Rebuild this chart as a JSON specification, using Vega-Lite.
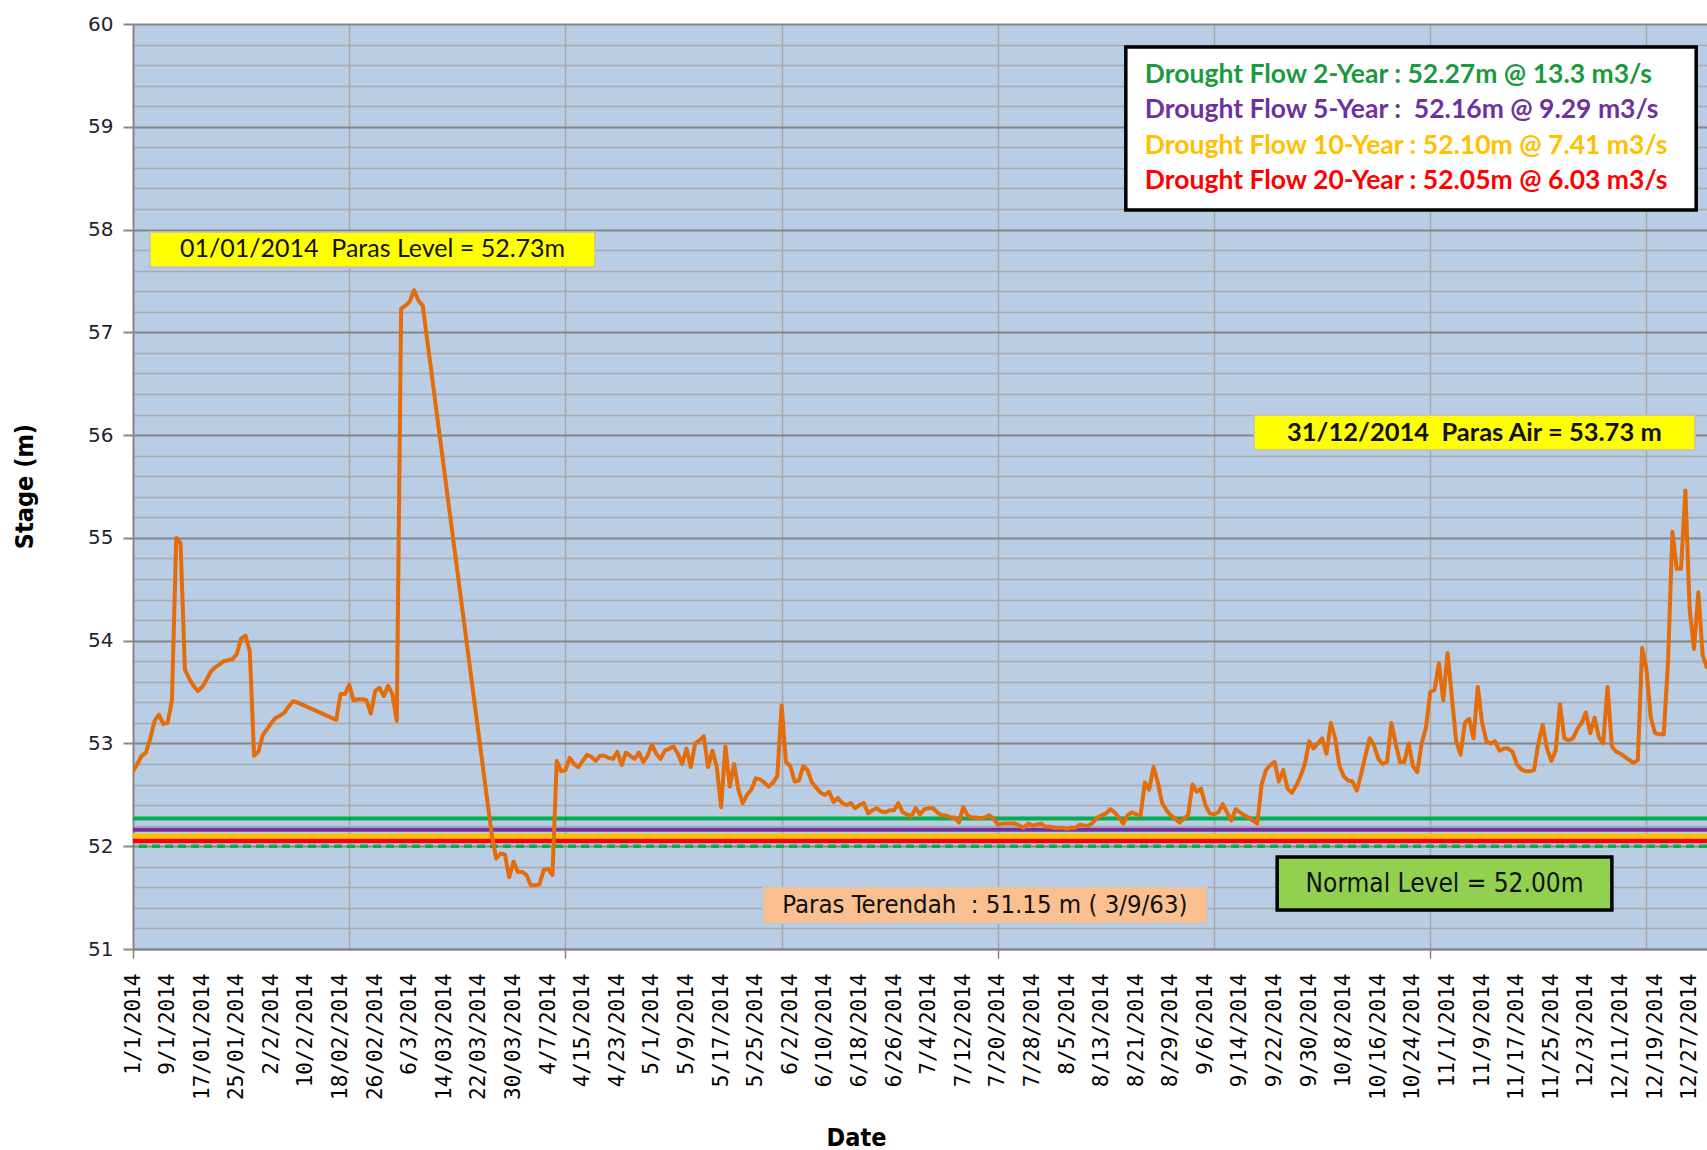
{
  "$schema": "https://vega.github.io/schema/vega-lite/v6.json",
  "width": 1574,
  "height": 925,
  "autosize": {"type": "none"},
  "padding": {"left": 133, "top": 24, "right": 0, "bottom": 201},
  "background": "#ffffff",
  "config": {"view": {"fill": "#b9cde5", "stroke": null}, "axis": {"labelOverlap": false}},
  "resolve": {"axis": {"x": "independent", "y": "independent"}},
  "datasets": {
    "series": [
      {"day":0,"stage":52.73},{"day":1,"stage":52.80},{"day":2,"stage":52.88},{"day":3,"stage":52.91},{"day":4,"stage":53.05},{"day":5,"stage":53.22},{"day":6,"stage":53.28},{"day":7,"stage":53.19},{"day":8,"stage":53.20},{"day":9,"stage":53.42},
      {"day":10,"stage":55.00},{"day":11,"stage":54.95},{"day":12,"stage":53.72},{"day":13,"stage":53.63},{"day":14,"stage":53.56},{"day":15,"stage":53.51},{"day":16,"stage":53.55},{"day":17,"stage":53.62},{"day":18,"stage":53.70},{"day":19,"stage":53.74},
      {"day":20,"stage":53.77},{"day":21,"stage":53.80},{"day":22,"stage":53.81},{"day":23,"stage":53.82},{"day":24,"stage":53.87},{"day":25,"stage":54.02},{"day":26,"stage":54.05},{"day":27,"stage":53.90},{"day":28,"stage":52.88},{"day":29,"stage":52.92},
      {"day":30,"stage":53.08},{"day":31,"stage":53.14},{"day":32,"stage":53.20},{"day":33,"stage":53.25},{"day":34,"stage":53.27},{"day":35,"stage":53.30},{"day":36,"stage":53.36},{"day":37,"stage":53.41},{"day":38,"stage":53.40},{"day":39,"stage":53.38},
      {"day":47,"stage":53.23},{"day":48,"stage":53.48},{"day":49,"stage":53.48},{"day":50,"stage":53.57},{"day":51,"stage":53.42},{"day":52,"stage":53.43},{"day":53,"stage":53.43},{"day":54,"stage":53.42},{"day":55,"stage":53.29},{"day":56,"stage":53.51},
      {"day":57,"stage":53.54},{"day":58,"stage":53.46},{"day":59,"stage":53.56},{"day":60,"stage":53.48},{"day":61,"stage":53.22},{"day":62,"stage":57.23},{"day":63,"stage":57.26},{"day":64,"stage":57.30},{"day":65,"stage":57.41},{"day":66,"stage":57.31},{"day":67,"stage":57.26},
      {"day":83,"stage":52.10},{"day":84,"stage":51.88},{"day":85,"stage":51.93},{"day":86,"stage":51.92},{"day":87,"stage":51.70},{"day":88,"stage":51.85},{"day":89,"stage":51.75},{"day":90,"stage":51.75},{"day":91,"stage":51.72},{"day":92,"stage":51.62},
      {"day":93,"stage":51.62},{"day":94,"stage":51.63},{"day":95,"stage":51.77},{"day":96,"stage":51.78},{"day":97,"stage":51.72},{"day":98,"stage":52.83},{"day":99,"stage":52.73},{"day":100,"stage":52.74},{"day":101,"stage":52.86},{"day":102,"stage":52.80},
      {"day":103,"stage":52.77},{"day":104,"stage":52.83},{"day":105,"stage":52.89},{"day":106,"stage":52.87},{"day":107,"stage":52.83},{"day":108,"stage":52.88},{"day":109,"stage":52.88},{"day":110,"stage":52.86},{"day":111,"stage":52.85},{"day":112,"stage":52.92},
      {"day":113,"stage":52.79},{"day":114,"stage":52.91},{"day":115,"stage":52.88},{"day":116,"stage":52.85},{"day":117,"stage":52.91},{"day":118,"stage":52.82},{"day":119,"stage":52.88},{"day":120,"stage":52.99},{"day":121,"stage":52.90},{"day":122,"stage":52.85},
      {"day":123,"stage":52.93},{"day":124,"stage":52.95},{"day":125,"stage":52.97},{"day":126,"stage":52.90},{"day":127,"stage":52.80},{"day":128,"stage":52.95},{"day":129,"stage":52.77},{"day":130,"stage":53.00},{"day":131,"stage":53.03},{"day":132,"stage":53.07},
      {"day":133,"stage":52.77},{"day":134,"stage":52.93},{"day":135,"stage":52.77},{"day":136,"stage":52.38},{"day":137,"stage":52.97},{"day":138,"stage":52.58},{"day":139,"stage":52.80},{"day":140,"stage":52.55},{"day":141,"stage":52.42},{"day":142,"stage":52.50},
      {"day":143,"stage":52.55},{"day":144,"stage":52.66},{"day":145,"stage":52.65},{"day":146,"stage":52.62},{"day":147,"stage":52.58},{"day":148,"stage":52.62},{"day":149,"stage":52.68},{"day":150,"stage":53.37},{"day":151,"stage":52.82},{"day":152,"stage":52.78},
      {"day":153,"stage":52.63},{"day":154,"stage":52.64},{"day":155,"stage":52.78},{"day":156,"stage":52.74},{"day":157,"stage":52.62},{"day":158,"stage":52.57},{"day":159,"stage":52.52},{"day":160,"stage":52.50},{"day":161,"stage":52.53},{"day":162,"stage":52.43},
      {"day":163,"stage":52.47},{"day":164,"stage":52.42},{"day":165,"stage":52.40},{"day":166,"stage":52.42},{"day":167,"stage":52.37},{"day":168,"stage":52.40},{"day":169,"stage":52.42},{"day":170,"stage":52.32},{"day":171,"stage":52.35},{"day":172,"stage":52.37},
      {"day":173,"stage":52.34},{"day":174,"stage":52.33},{"day":175,"stage":52.35},{"day":176,"stage":52.35},{"day":177,"stage":52.42},{"day":178,"stage":52.33},{"day":179,"stage":52.31},{"day":180,"stage":52.29},{"day":181,"stage":52.37},{"day":182,"stage":52.31},
      {"day":183,"stage":52.36},{"day":184,"stage":52.37},{"day":185,"stage":52.37},{"day":186,"stage":52.33},{"day":187,"stage":52.30},{"day":188,"stage":52.30},{"day":189,"stage":52.28},{"day":190,"stage":52.28},{"day":191,"stage":52.23},{"day":192,"stage":52.38},
      {"day":193,"stage":52.30},{"day":194,"stage":52.28},{"day":195,"stage":52.28},{"day":196,"stage":52.27},{"day":197,"stage":52.28},{"day":198,"stage":52.30},{"day":199,"stage":52.27},{"day":200,"stage":52.21},{"day":201,"stage":52.22},{"day":202,"stage":52.22},
      {"day":203,"stage":52.22},{"day":204,"stage":52.22},{"day":205,"stage":52.20},{"day":206,"stage":52.18},{"day":207,"stage":52.22},{"day":208,"stage":52.20},{"day":209,"stage":52.21},{"day":210,"stage":52.22},{"day":211,"stage":52.19},{"day":212,"stage":52.19},
      {"day":213,"stage":52.18},{"day":214,"stage":52.18},{"day":215,"stage":52.18},{"day":216,"stage":52.17},{"day":217,"stage":52.18},{"day":218,"stage":52.18},{"day":219,"stage":52.21},{"day":220,"stage":52.20},{"day":221,"stage":52.20},{"day":222,"stage":52.23},
      {"day":223,"stage":52.28},{"day":224,"stage":52.30},{"day":225,"stage":52.32},{"day":226,"stage":52.36},{"day":227,"stage":52.33},{"day":228,"stage":52.28},{"day":229,"stage":52.22},{"day":230,"stage":52.30},{"day":231,"stage":52.33},{"day":232,"stage":52.31},
      {"day":233,"stage":52.30},{"day":234,"stage":52.62},{"day":235,"stage":52.55},{"day":236,"stage":52.77},{"day":237,"stage":52.62},{"day":238,"stage":52.42},{"day":239,"stage":52.35},{"day":240,"stage":52.30},{"day":241,"stage":52.27},{"day":242,"stage":52.23},
      {"day":243,"stage":52.27},{"day":244,"stage":52.30},{"day":245,"stage":52.60},{"day":246,"stage":52.53},{"day":247,"stage":52.56},{"day":248,"stage":52.40},{"day":249,"stage":52.32},{"day":250,"stage":52.31},{"day":251,"stage":52.33},{"day":252,"stage":52.41},
      {"day":253,"stage":52.33},{"day":254,"stage":52.25},{"day":255,"stage":52.36},{"day":256,"stage":52.33},{"day":257,"stage":52.30},{"day":258,"stage":52.28},{"day":259,"stage":52.25},{"day":260,"stage":52.22},{"day":261,"stage":52.60},{"day":262,"stage":52.74},
      {"day":263,"stage":52.79},{"day":264,"stage":52.82},{"day":265,"stage":52.63},{"day":266,"stage":52.74},{"day":267,"stage":52.56},{"day":268,"stage":52.52},{"day":269,"stage":52.59},{"day":270,"stage":52.68},{"day":271,"stage":52.80},{"day":272,"stage":53.02},
      {"day":273,"stage":52.95},{"day":274,"stage":53.00},{"day":275,"stage":53.05},{"day":276,"stage":52.90},{"day":277,"stage":53.20},{"day":278,"stage":53.05},{"day":279,"stage":52.78},{"day":280,"stage":52.68},{"day":281,"stage":52.64},{"day":282,"stage":52.63},
      {"day":283,"stage":52.54},{"day":284,"stage":52.70},{"day":285,"stage":52.88},{"day":286,"stage":53.05},{"day":287,"stage":52.98},{"day":288,"stage":52.85},{"day":289,"stage":52.80},{"day":290,"stage":52.82},{"day":291,"stage":53.20},{"day":292,"stage":53.00},
      {"day":293,"stage":52.82},{"day":294,"stage":52.82},{"day":295,"stage":53.00},{"day":296,"stage":52.78},{"day":297,"stage":52.72},{"day":298,"stage":53.00},{"day":299,"stage":53.15},{"day":300,"stage":53.50},{"day":301,"stage":53.52},{"day":302,"stage":53.78},
      {"day":303,"stage":53.42},{"day":304,"stage":53.88},{"day":305,"stage":53.45},{"day":306,"stage":53.02},{"day":307,"stage":52.89},{"day":308,"stage":53.20},{"day":309,"stage":53.24},{"day":310,"stage":53.05},{"day":311,"stage":53.55},{"day":312,"stage":53.20},
      {"day":313,"stage":53.02},{"day":314,"stage":53.00},{"day":315,"stage":53.02},{"day":316,"stage":52.93},{"day":317,"stage":52.95},{"day":318,"stage":52.95},{"day":319,"stage":52.92},{"day":320,"stage":52.80},{"day":321,"stage":52.75},{"day":322,"stage":52.73},
      {"day":323,"stage":52.73},{"day":324,"stage":52.74},{"day":325,"stage":53.00},{"day":326,"stage":53.18},{"day":327,"stage":52.95},{"day":328,"stage":52.83},{"day":329,"stage":52.93},{"day":330,"stage":53.38},{"day":331,"stage":53.05},{"day":332,"stage":53.03},
      {"day":333,"stage":53.05},{"day":334,"stage":53.14},{"day":335,"stage":53.20},{"day":336,"stage":53.30},{"day":337,"stage":53.10},{"day":338,"stage":53.25},{"day":339,"stage":53.06},{"day":340,"stage":53.00},{"day":341,"stage":53.55},{"day":342,"stage":52.97},
      {"day":343,"stage":52.92},{"day":344,"stage":52.90},{"day":345,"stage":52.87},{"day":346,"stage":52.84},{"day":347,"stage":52.81},{"day":348,"stage":52.84},{"day":349,"stage":53.93},{"day":350,"stage":53.72},{"day":351,"stage":53.25},{"day":352,"stage":53.10},
      {"day":353,"stage":53.09},{"day":354,"stage":53.09},{"day":355,"stage":53.80},{"day":356,"stage":55.06},{"day":357,"stage":54.70},{"day":358,"stage":54.70},{"day":359,"stage":55.46},{"day":360,"stage":54.30},{"day":361,"stage":53.92},{"day":362,"stage":54.47},
      {"day":363,"stage":53.86},{"day":364,"stage":53.73}
    ]
  },
  "layer": [
    {
      "data": {"values": [{"x1": 3.93, "x2": 106.85, "y1": 57.976, "y2": 57.636}]},
      "mark": {"type": "rect", "fill": "#ffff00", "opacity": 0},
      "encoding": {
        "x": {"field": "x1", "type": "quantitative", "scale": {"domain": [0, 364], "nice": false, "zero": false},
          "axis": {"orient": "bottom", "title": null, "values": [50, 100, 150, 200, 250, 300, 350], "grid": true, "gridColor": "#a6a6a6", "gridWidth": 1.5, "labels": false, "ticks": false, "domain": false}},
        "x2": {"field": "x2"},
        "y": {"field": "y1", "type": "quantitative", "scale": {"domain": [51, 60], "nice": false, "zero": false},
          "axis": {"orient": "left", "title": null, "values": [51.2,51.4,51.6,51.8,52.2,52.4,52.6,52.8,53.2,53.4,53.6,53.8,54.2,54.4,54.6,54.8,55.2,55.4,55.6,55.8,56.2,56.4,56.6,56.8,57.2,57.4,57.6,57.8,58.2,58.4,58.6,58.8,59.2,59.4,59.6,59.8], "grid": true, "gridColor": "#a9a9a9", "gridWidth": 1.5, "labels": false, "ticks": false, "domain": false}},
        "y2": {"field": "y2"}
      }
    },
    {
      "data": {"values": [{"x1": 3.93, "x2": 106.85, "y1": 57.976, "y2": 57.636}]},
      "mark": {"type": "rect", "fill": "#ffff00", "opacity": 0},
      "encoding": {
        "x": {"field": "x1", "type": "quantitative",
          "axis": {"orient": "bottom", "title": null, "values": [0, 100, 200, 300], "grid": false, "labels": false, "ticks": true, "tickSize": 9, "tickColor": "#808080", "tickWidth": 1.5, "domain": false}},
        "x2": {"field": "x2"},
        "y": {"field": "y1", "type": "quantitative", "axis": null},
        "y2": {"field": "y2"}
      }
    },
    {
      "data": {"values": [{"stage": 52.27}]},
      "mark": {"type": "rule", "color": "#00b050", "strokeWidth": 4},
      "encoding": {"y": {"field": "stage", "type": "quantitative", "axis": null}}
    },
    {
      "data": {"values": [{"stage": 52.16}]},
      "mark": {"type": "rule", "color": "#7030a0", "strokeWidth": 4},
      "encoding": {"y": {"field": "stage", "type": "quantitative", "axis": null}}
    },
    {
      "data": {"values": [{"stage": 52.10}]},
      "mark": {"type": "rule", "color": "#ffc000", "strokeWidth": 5},
      "encoding": {"y": {"field": "stage", "type": "quantitative", "axis": null}}
    },
    {
      "data": {"values": [{"stage": 52.05}]},
      "mark": {"type": "rule", "color": "#ff0000", "strokeWidth": 4.5},
      "encoding": {"y": {"field": "stage", "type": "quantitative", "axis": null}}
    },
    {
      "data": {"values": [{"stage": 52.00}]},
      "mark": {"type": "rule", "color": "#00b050", "strokeWidth": 3.5, "strokeDash": [8, 5]},
      "encoding": {"y": {"field": "stage", "type": "quantitative", "axis": null}}
    },
    {
      "data": {"name": "series"},
      "mark": {"type": "line", "color": "#e46c0a", "strokeWidth": 4, "strokeJoin": "round", "clip": true},
      "encoding": {
        "x": {
          "field": "day", "type": "quantitative",
          "axis": {
            "title": "Date",
            "orient": "bottom",
            "values": [0,8,16,24,32,40,48,56,64,72,80,88,96,104,112,120,128,136,144,152,160,168,176,184,192,200,208,216,224,232,240,248,256,264,272,280,288,296,304,312,320,328,336,344,352,360],
            "labelExpr": "['1/1/2014','9/1/2014','17/01/2014','25/01/2014','2/2/2014','10/2/2014','18/02/2014','26/02/2014','6/3/2014','14/03/2014','22/03/2014','30/03/2014','4/7/2014','4/15/2014','4/23/2014','5/1/2014','5/9/2014','5/17/2014','5/25/2014','6/2/2014','6/10/2014','6/18/2014','6/26/2014','7/4/2014','7/12/2014','7/20/2014','7/28/2014','8/5/2014','8/13/2014','8/21/2014','8/29/2014','9/6/2014','9/14/2014','9/22/2014','9/30/2014','10/8/2014','10/16/2014','10/24/2014','11/1/2014','11/9/2014','11/17/2014','11/25/2014','12/3/2014','12/11/2014','12/19/2014','12/27/2014'][round(datum.value / 8)]",
            "labelAngle": 270,
            "labelAlign": "right",
            "labelBaseline": "middle",
            "labelFont": "DejaVu Sans Mono",
            "labelFontSize": 21,
            "labelColor": "#000000",
            "labelPadding": 15,
            "labelOverlap": false,
            "labelFlush": false,
            "labelBound": false,
            "ticks": true,
            "tickSize": 9,
            "tickOpacity": 0,
            "grid": false,
            "domain": true,
            "domainColor": "#868686",
            "domainWidth": 2,
            "titleFont": "DejaVu Sans Condensed, Liberation Sans",
            "titleFontWeight": "bold",
            "titleFontSize": 25,
            "titleColor": "#000000",
            "titleX": 723,
            "titleY": 196,
            "titleAlign": "center",
            "titleBaseline": "alphabetic"
          }
        },
        "y": {
          "field": "stage", "type": "quantitative",
          "axis": {
            "title": "Stage (m)",
            "orient": "left",
            "values": [51,52,53,54,55,56,57,58,59,60],
            "format": "d",
            "labelFont": "DejaVu Sans",
            "labelFontSize": 20,
            "labelColor": "#1f1f2f",
            "labelPadding": 10,
            "labelOverlap": false,
            "labelFlush": false,
            "labelBound": false,
            "ticks": true,
            "tickSize": 10,
            "tickColor": "#868686",
            "tickWidth": 2,
            "grid": true,
            "gridColor": "#858585",
            "gridWidth": 2,
            "domain": true,
            "domainColor": "#868686",
            "domainWidth": 2,
            "titleFont": "DejaVu Sans Condensed, Liberation Sans",
            "titleFontWeight": "bold",
            "titleFontSize": 25,
            "titleColor": "#000000",
            "titleAngle": 270,
            "titleX": -109,
            "titleY": 462,
            "titleAlign": "center",
            "titleBaseline": "middle"
          }
        }
      }
    },
    {
      "data": {"values": [{"x1": 3.93, "x2": 106.85, "y1": 57.976, "y2": 57.636}]},
      "mark": {"type": "rect", "fill": "#ffff00", "stroke": "#bfbfbf", "strokeWidth": 1.5},
      "encoding": {
        "x": {"field": "x1", "type": "quantitative", "axis": null},
        "x2": {"field": "x2"},
        "y": {"field": "y1", "type": "quantitative", "axis": null},
        "y2": {"field": "y2"}
      }
    },
    {
      "data": {"values": [{"x1": 259.25, "x2": 361.24, "y1": 56.196, "y2": 55.855}]},
      "mark": {"type": "rect", "fill": "#ffff00", "stroke": "#bfbfbf", "strokeWidth": 1.5},
      "encoding": {
        "x": {"field": "x1", "type": "quantitative", "axis": null},
        "x2": {"field": "x2"},
        "y": {"field": "y1", "type": "quantitative", "axis": null},
        "y2": {"field": "y2"}
      }
    },
    {
      "data": {"values": [{"x1": 229.6, "x2": 361.5, "y1": 59.776, "y2": 58.19}]},
      "mark": {"type": "rect", "fill": "#ffffff", "stroke": "#000000", "strokeWidth": 3.5},
      "encoding": {
        "x": {"field": "x1", "type": "quantitative", "axis": null},
        "x2": {"field": "x2"},
        "y": {"field": "y1", "type": "quantitative", "axis": null},
        "y2": {"field": "y2"}
      }
    },
    {
      "data": {"values": [{"x1": 145.7, "x2": 248.4, "y1": 51.603, "y2": 51.253}]},
      "mark": {"type": "rect", "fill": "#fac090", "stroke": "#c8c8c8", "strokeWidth": 1.5},
      "encoding": {
        "x": {"field": "x1", "type": "quantitative", "axis": null},
        "x2": {"field": "x2"},
        "y": {"field": "y1", "type": "quantitative", "axis": null},
        "y2": {"field": "y2"}
      }
    },
    {
      "data": {"values": [{"x1": 264.6, "x2": 342.0, "y1": 51.895, "y2": 51.38}]},
      "mark": {"type": "rect", "fill": "#92d050", "stroke": "#000000", "strokeWidth": 3.5},
      "encoding": {
        "x": {"field": "x1", "type": "quantitative", "axis": null},
        "x2": {"field": "x2"},
        "y": {"field": "y1", "type": "quantitative", "axis": null},
        "y2": {"field": "y2"}
      }
    },
    {
      "data": {"values": [{"day": 55.4, "stage": 57.806, "label": "01/01/2014\u00a0 Paras Level = 52.73m"}]},
      "mark": {"type": "text", "font": "Lato", "fontSize": 25, "color": "#111111", "align": "center", "baseline": "middle"},
      "encoding": {
        "x": {"field": "day", "type": "quantitative", "axis": null},
        "y": {"field": "stage", "type": "quantitative", "axis": null},
        "text": {"field": "label"}
      }
    },
    {
      "data": {"values": [{"day": 310.2, "stage": 56.025, "label": "31/12/2014\u00a0 Paras Air = 53.73 m"}]},
      "mark": {"type": "text", "font": "Lato", "fontSize": 25.5, "fontWeight": "bold", "color": "#111111", "align": "center", "baseline": "middle"},
      "encoding": {
        "x": {"field": "day", "type": "quantitative", "axis": null},
        "y": {"field": "stage", "type": "quantitative", "axis": null},
        "text": {"field": "label"}
      }
    },
    {
      "data": {"values": [
        {"day": 234.0, "stage": 59.50, "item": "2", "label": "Drought Flow 2-Year : 52.27m @ 13.3 m3/s"},
        {"day": 234.0, "stage": 59.16, "item": "5", "label": "Drought Flow 5-Year :\u00a0 52.16m @ 9.29 m3/s"},
        {"day": 234.0, "stage": 58.81, "item": "10", "label": "Drought Flow 10-Year : 52.10m @ 7.41 m3/s"},
        {"day": 234.0, "stage": 58.47, "item": "20", "label": "Drought Flow 20-Year : 52.05m @ 6.03 m3/s"}
      ]},
      "mark": {"type": "text", "font": "Lato", "fontSize": 26.5, "fontWeight": "bold", "align": "left", "baseline": "middle"},
      "encoding": {
        "x": {"field": "day", "type": "quantitative", "axis": null},
        "y": {"field": "stage", "type": "quantitative", "axis": null},
        "text": {"field": "label"},
        "color": {"field": "item", "type": "nominal", "scale": {"domain": ["2", "5", "10", "20"], "range": ["#1a9a3c", "#7030a0", "#ffc000", "#ff0000"]}, "legend": null}
      }
    },
    {
      "data": {"values": [{"day": 197.0, "stage": 51.428, "label": "Paras Terendah\u00a0 : 51.15 m ( 3/9/63)"}]},
      "mark": {"type": "text", "font": "DejaVu Sans Condensed, Liberation Sans", "fontSize": 25.5, "color": "#111111", "align": "center", "baseline": "middle"},
      "encoding": {
        "x": {"field": "day", "type": "quantitative", "axis": null},
        "y": {"field": "stage", "type": "quantitative", "axis": null},
        "text": {"field": "label"}
      }
    },
    {
      "data": {"values": [{"day": 303.3, "stage": 51.63, "label": "Normal Level = 52.00m"}]},
      "mark": {"type": "text", "font": "DejaVu Sans Condensed, Liberation Sans", "fontSize": 26, "color": "#111111", "align": "center", "baseline": "middle"},
      "encoding": {
        "x": {"field": "day", "type": "quantitative", "axis": null},
        "y": {"field": "stage", "type": "quantitative", "axis": null},
        "text": {"field": "label"}
      }
    }
  ]
}
